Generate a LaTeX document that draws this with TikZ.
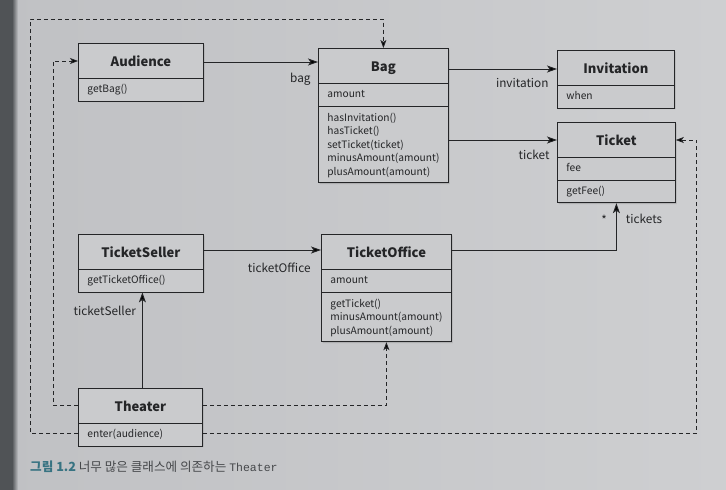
\documentclass[tikz,border=0pt]{standalone}
\usepackage{fontspec}
\setmainfont{Noto Sans CJK KR}
\newfontfamily\codefont{Liberation Mono}
\usetikzlibrary{arrows.meta,calc,shapes.multipart,shadows}
\definecolor{PaperLeftClr}{RGB}{192,193,196}
\definecolor{PaperRightClr}{RGB}{206,207,209}
\definecolor{EdgeClr}{RGB}{80,83,86}
\definecolor{BoxClr}{RGB}{202,203,205}
\definecolor{LineClr}{RGB}{36,37,39}
\definecolor{CaptionClr}{RGB}{55,115,130}
\definecolor{CaptionTextClr}{RGB}{70,72,75}

\newcommand{\clsname}[1]{\hfill\rule[-11pt]{0pt}{34pt}{\fontsize{13}{15}\selectfont\bfseries #1}\hfill\null}
\newcommand{\clsrow}[1]{\rule[-8pt]{0pt}{22pt}#1}
\newcommand{\clsops}[1]{\rule{0pt}{15pt}#1\rule[-7pt]{0pt}{0pt}}

\tikzset{
  cls/.style={rectangle split, rectangle split parts=#1, draw=LineClr, line width=0.8pt,
    fill=BoxClr, inner xsep=9pt, inner ysep=0pt, align=left, anchor=north west,
    font=\fontsize{10.2}{13.5}\selectfont, text=LineClr,
    drop shadow={shadow xshift=1.2pt, shadow yshift=-1.2pt, opacity=0.35}},
  assoc/.style={draw=LineClr, line width=0.9pt, -{Stealth[length=10pt,width=7pt,inset=2.5pt]}},
  dep/.style={draw=LineClr, line width=0.8pt, dash pattern=on 4pt off 3pt,
    -{Stealth[length=8pt,width=6pt,inset=2pt]}},
  role/.style={font=\fontsize{11.8}{14}\selectfont, text=LineClr, inner sep=0pt},
}

\begin{document}
\begin{tikzpicture}[x=1pt,y=-1pt]
\useasboundingbox (0,0) rectangle (726,490);
\shade[left color=PaperLeftClr,right color=PaperRightClr] (0,0) rectangle (726,490);
\fill[EdgeClr] (0,0) rectangle (12,490);
\shade[left color=EdgeClr,right color=PaperLeftClr] (12,0) rectangle (18,490);

\node[cls=2,text width=107pt] (aud) at (78,43) {\clsname{Audience}\nodepart{two}\clsrow{getBag()}};
\node[cls=3,text width=112pt] (bag) at (318,48) {\clsname{Bag}\nodepart{two}\clsrow{amount}
  \nodepart{three}\clsops{hasInvitation()\\hasTicket()\\setTicket(ticket)\\minusAmount(amount)\\plusAmount(amount)}};
\node[cls=2,text width=99pt] (inv) at (557,50) {\clsname{Invitation}\nodepart{two}\clsrow{when}};
\node[cls=3,text width=100pt] (tkt) at (557,122) {\clsname{Ticket}\nodepart{two}\clsrow{fee}\nodepart{three}\clsrow{getFee()}};
\node[cls=2,text width=107pt] (seller) at (78,234) {\clsname{TicketSeller}\nodepart{two}\clsrow{getTicketOffice()}};
\node[cls=3,text width=112pt] (office) at (321,234) {\clsname{TicketOffice}\nodepart{two}\clsrow{amount}
  \nodepart{three}\clsops{getTicket()\\minusAmount(amount)\\plusAmount(amount)}};
\node[cls=2,text width=106pt] (theater) at (78,388) {\clsname{Theater}\nodepart{two}\clsrow{enter(audience)}};

\coordinate (audout) at ($(aud.north east)+(0,19)$);
\coordinate (bagout) at ($(bag.north east)+(0,21)$);
\coordinate (bagtkt) at ($(bag.north east)+(0,92)$);
\coordinate (sellout) at ($(seller.north east)+(0,16)$);
\coordinate (offout) at ($(office.north east)+(0,16)$);
\coordinate (theatup) at ($(theater.north)+(2,0)$);

\draw[assoc] (audout) -- (audout -| bag.west) node[role,pos=1,anchor=base east,xshift=-7pt,yshift=-20pt] (bagrole) {bag};
\draw[assoc] (bagout) -- (bagout -| inv.west) node[role,pos=1,anchor=base east,xshift=-8pt,yshift=-18pt] (invrole) {invitation};
\draw[assoc] (bagtkt) -- (bagtkt -| tkt.west) node[role,pos=1,anchor=base east,xshift=-7pt,yshift=-19pt] (tktrole) {ticket};
\draw[assoc] (sellout) -- (sellout -| office.west) node[role,pos=1,anchor=base east,xshift=-10pt,yshift=-22pt] (offrole) {ticketOffice};
\draw[assoc] (offout) -| (tkt.south) node[role,pos=1,anchor=base west,xshift=9pt,yshift=-20pt] (tktsrole) {tickets}
  node[role,pos=1,anchor=base east,xshift=-9pt,yshift=-21pt] (tktsmult) {*};
\draw[assoc] (theatup) -- (theatup |- seller.south) node[role,pos=1,anchor=base east,xshift=-6pt,yshift=-23pt] (sellrole) {ticketSeller};

\draw[dep] ($(theater.north west)+(0,17)$) -- ++(-25,0) |- ($(aud.north west)+(0,18)$);
\draw[dep] ($(theater.north east)+(0,17)$) -| (office.south);
\draw[dep] ($(theater.north west)+(0,45)$) -- ++(-48,0) |- ($(bag.north)+(0,-29)$) -- (bag.north);
\draw[dep] ($(theater.north east)+(0,45)$) -- ++(494,0) |- ($(tkt.north east)+(0,18)$);

\node[anchor=base west,inner sep=0pt,font=\fontsize{12.6}{14}\selectfont] (caption) at (30,471)
  {\textcolor{CaptionClr}{\bfseries 그림 1.2} \textcolor{CaptionTextClr}{너무 많은 클래스에 의존하는 {\fontsize{11.5}{14}\codefont Theater}}};
\end{tikzpicture}
\end{document}
